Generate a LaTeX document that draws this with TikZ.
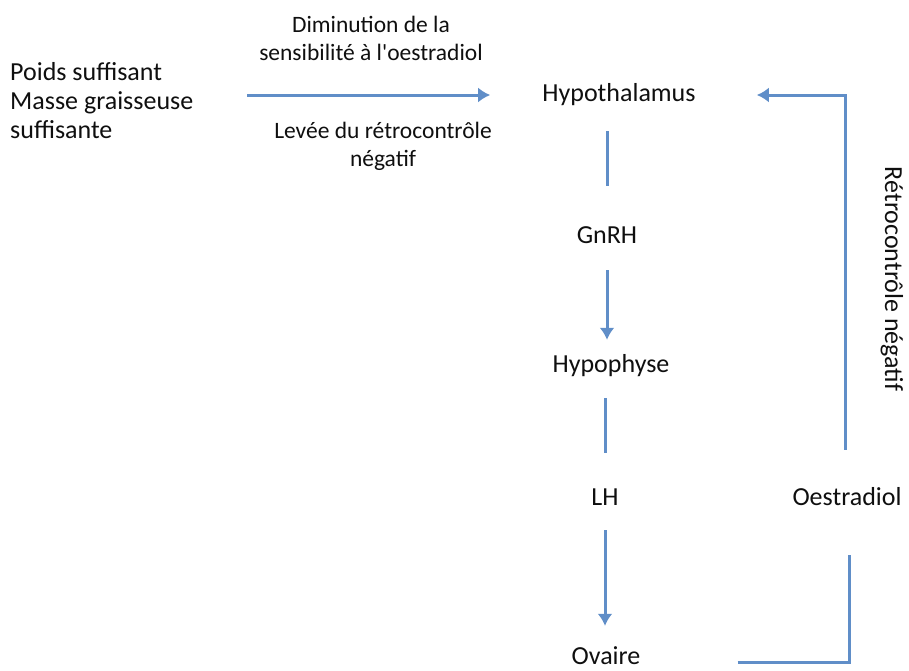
\documentclass[tikz,border=0pt]{standalone}
\usepackage{fontspec}
\setmainfont{Carlito}
\usetikzlibrary{arrows.meta}
\definecolor{linkblue}{RGB}{96,142,200}
\definecolor{txt}{RGB}{15,15,15}
\tikzset{
  main/.style={font=\fontsize{26}{31}\selectfont, text=txt, inner sep=0pt, text height=18pt, text depth=6pt},
  small/.style={font=\fontsize{23.5}{28}\selectfont, text=txt, inner sep=0pt, align=center},
  link/.style={draw=linkblue, line width=3pt},
  arr/.style={link, -{Latex[length=12pt,width=15pt]}},
}
\begin{document}
\begin{tikzpicture}[x=1pt,y=-1pt]
\path[use as bounding box] (0,0) rectangle (909,670);

\node[main, anchor=west, align=left, text height=, text depth=, font=\fontsize{26}{29}\selectfont] (src) at (10,101) {Poids suffisant\\Masse graisseuse\\suffisante};
\node[main] (hyp) at (619,95) {Hypothalamus};
\node[main] (gnrh) at (607,237) {GnRH};
\node[main] (hypo) at (611,366) {Hypophyse};
\node[main] (lh) at (605,499) {LH};
\node[main] (oes) at (847,499) {Oestradiol};
\node[main, text depth=0pt] (ov) at (606,655) {Ovaire};

\node[small] (top) at (371,38) {Diminution de la\\sensibilité à l\textquotesingle oestradiol};
\node[small] (bot) at (383,146) {Levée du rétrocontrôle\\négatif};
\node[main, rotate=-90, text height=, text depth=] (rc) at (892,279) {Rétrocontrôle négatif};

\draw[arr, shorten <=54pt, shorten >=52pt] (src.east |- hyp.center) -- (hyp.west);
\draw[link, shorten <=24pt, shorten >=39pt] (gnrh.north |- hyp.south) -- (gnrh.north);
\draw[arr, shorten <=21pt, shorten >=14pt] (gnrh.south) -- (gnrh.south |- hypo.north);
\draw[link, shorten <=20pt, shorten >=34pt] (lh.north |- hypo.south) -- (lh.north);
\draw[arr, shorten <=19pt, shorten >=20pt] (lh.south) -- (lh.south |- ov.north);
\draw[arr, shorten <=37pt, shorten >=61pt] ([xshift=-2pt]oes.north) |- (hyp.east);
\draw[link, shorten <=97pt, shorten >=44pt] ([yshift=-7pt]ov.east) -| ([xshift=2pt]oes.south);
\end{tikzpicture}
\end{document}
